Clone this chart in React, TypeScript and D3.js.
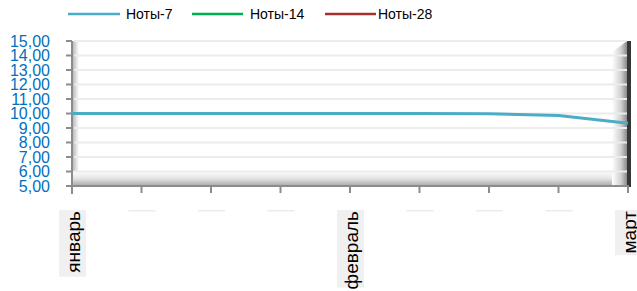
import React from "react";
import * as d3 from "d3";

const categories: string[] = ["январь", "", "", "", "февраль", "", "", "", "март"];
const notes7: number[] = [10.0, 10.0, 10.0, 10.0, 10.0, 10.0, 9.98, 9.86, 9.32];
const seriesNames: string[] = ["Ноты-7", "Ноты-14", "Ноты-28"];
const seriesColors: string[] = ["#4bacc6", "#00b050", "#a5302e"];
const yTicks: number[] = [5, 6, 7, 8, 9, 10, 11, 12, 13, 14, 15];

const W = 637;
const H = 291;
const left = 72;
const right = 628;
const top = 41;
const bottom = 186;

export default function App() {
  const x = d3.scalePoint<number>().domain(categories.map((_, i) => i)).range([left, right]);
  const y = d3.scaleLinear().domain([5, 15]).range([bottom, top]);
  const line = d3
    .line<number>()
    .x((_, i) => x(i) as number)
    .y((d) => y(d));
  const fmt = (v: number) => v.toFixed(2).replace(".", ",");
  const labelFont = "'Liberation Sans', Arial, sans-serif";
  const legendPos = [
    { x1: 68, x2: 120, tx: 126 },
    { x1: 192, x2: 243, tx: 250 },
    { x1: 325, x2: 376, tx: 378 },
  ];
  return (
    <svg width={W} height={H} style={{ position: "absolute", left: 0, top: 0 }}>
      <defs>
        <linearGradient id="floor" x1="0" y1="0" x2="0" y2="1">
          <stop offset="0" stopColor="#ffffff" />
          <stop offset="0.5" stopColor="#e4e4e4" />
          <stop offset="1" stopColor="#a8a8a8" />
        </linearGradient>
        <linearGradient id="lwall" x1="0" y1="0" x2="1" y2="0">
          <stop offset="0" stopColor="#b0b0b0" />
          <stop offset="1" stopColor="#ffffff" />
        </linearGradient>
        <linearGradient id="rwall" x1="0" y1="0" x2="1" y2="0">
          <stop offset="0" stopColor="#ffffff" />
          <stop offset="0.6" stopColor="#d0d0d0" />
          <stop offset="1" stopColor="#8a8a8a" />
        </linearGradient>
      </defs>
      <rect x={0} y={0} width={W} height={H} fill="#fff" />
      {/* back wall */}
      <rect x={left} y={top} width={right - left} height={bottom - top} fill="#fff" />
      {/* left wall */}
      <rect x={left} y={top} width={7} height={bottom - top} fill="url(#lwall)" />
      {/* floor */}
      <rect x={left} y={171} width={right - left} height={bottom - 171} fill="url(#floor)" />
      {/* right wall */}
      <polygon
        points={`${612},${52} ${627},${41} ${627},${bottom} ${612},${bottom}`}
        fill="url(#rwall)"
      />
      <rect x={627} y={41} width={4} height={bottom - 41 + 1} fill="#363636" />
      {/* gridlines */}
      {yTicks.slice(1).map((t) => (
        <line key={t} x1={left + 2} x2={627} y1={y(t)} y2={y(t)} stroke="#ececec" strokeWidth={2} />
      ))}
      {/* axes */}
      <line x1={left} x2={left} y1={top} y2={bottom + 8} stroke="#8c8c8c" strokeWidth={2} />
      <line x1={left} x2={right + 1} y1={bottom} y2={bottom} stroke="#8c8c8c" strokeWidth={2} />
      {yTicks.map((t) => (
        <line key={t} x1={66} x2={left} y1={y(t)} y2={y(t)} stroke="#8c8c8c" strokeWidth={2} />
      ))}
      {categories.map((_, i) => (
        <line
          key={i}
          x1={x(i) as number}
          x2={x(i) as number}
          y1={bottom}
          y2={bottom + 7}
          stroke="#8c8c8c"
          strokeWidth={2}
        />
      ))}
      {/* y labels */}
      {yTicks.map((t) => (
        <text
          key={t}
          x={50}
          y={y(t)}
          textAnchor="end"
          dominantBaseline="central"
          fontFamily={labelFont}
          fontSize={16}
          fill="#0070c0"
        >
          {fmt(t)}
        </text>
      ))}
      {/* x labels */}
      {categories.map((c, i) => {
        const cx = x(i) as number;
        const len = c ? c.length * 10.8 + 2 : 1.5;
        return (
          <g key={i}>
            <rect x={cx - 13} y={210} width={27} height={len} fill={c ? "#f0f0f0" : "#ececec"} />
            {c && (
              <text
                transform={`translate(${cx + 1},${211}) rotate(-90)`}
                textAnchor="end"
                dominantBaseline="central"
                fontFamily={labelFont}
                fontSize={19}
                fill="#000"
              >
                {c}
              </text>
            )}
          </g>
        );
      })}
      {/* series */}
      <path d={line(notes7) || ""} fill="none" stroke={seriesColors[0]} strokeWidth={3} strokeLinejoin="round" />
      {/* legend */}
      {seriesNames.map((n, i) => (
        <g key={n}>
          <line
            x1={legendPos[i].x1}
            x2={legendPos[i].x2}
            y1={14}
            y2={14}
            stroke={seriesColors[i]}
            strokeWidth={2.5}
          />
          <text
            x={legendPos[i].tx}
            y={14}
            dominantBaseline="central"
            fontFamily={labelFont}
            fontSize={14}
            fill="#000"
          >
            {n}
          </text>
        </g>
      ))}
    </svg>
  );
}
